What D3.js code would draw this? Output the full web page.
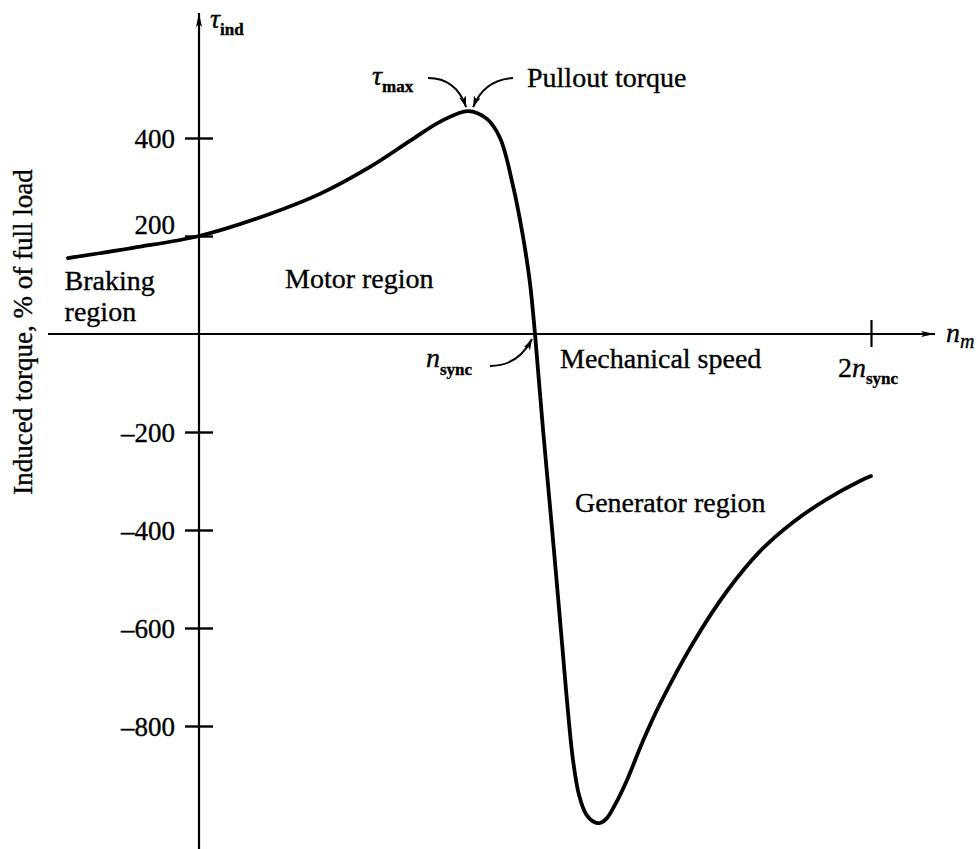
<!DOCTYPE html>
<html>
<head>
<meta charset="utf-8">
<script src="https://cdn.jsdelivr.net/npm/d3@7"></script>
<style>
  html, body { margin: 0; padding: 0; background: #fff; }
  svg { display: block; }
  text { font-family: "Liberation Serif", "Times New Roman", serif; fill: #000; stroke: #000; stroke-width: 0.35px; }
</style>
</head>
<body>
<svg id="chart" width="977" height="849"></svg>
<script>
// Induction machine torque–speed characteristic.
// Speed is given in % of synchronous speed, torque in % of full-load torque.
const speedPct = [-39, -19.6, 0, 20.2, 36, 50.9, 62.8, 71.7, 80.1, 85.7, 89.6, 93.4, 96.4, 98.5, 100,
                  102.4, 105.1, 107.7, 109.5, 111.3, 113.1, 115.2, 117.6, 119.3, 121.4, 123.8, 127.4, 132.1,
                  137.2, 147, 157.1, 167, 176.8, 186.9, 196.7, 200];
const torquePct = [155, 176, 200, 243, 286, 341, 394, 433, 455, 439, 400, 304, 200, 104, 0,
                   -196, -400, -604, -747, -869, -941, -980, -996, -998, -988, -961, -910, -831,
                   -755, -631, -525, -443, -384, -337, -300, -290];

// Axis ticks
const yTickValues = [400, 200, -200, -400, -600, -800];
const xTickValues = [200];            // 2 n_sync
const syncSpeed = 100;                // n_sync

// Region labels
const regionLabels = [
  { lines: ["Braking", "region"], speed: -40, torque: 90 },
  { lines: ["Motor region"], speed: 25.6, torque: 94 },
  { lines: ["Generator region"], speed: 111.9, torque: -364 }
];

const svg = d3.select("#chart");
const W = 977, H = 849;
svg.append("rect").attr("width", W).attr("height", H).attr("fill", "#fff");

const x = d3.scaleLinear().domain([0, 200]).range([199, 871]);
const y = d3.scaleLinear().domain([0, -800]).range([334, 726]);

// Arrowhead markers
const defs = svg.append("defs");
defs.append("marker")
  .attr("id", "axisArrow").attr("viewBox", "0 0 14 6")
  .attr("refX", 14).attr("refY", 3)
  .attr("markerWidth", 14).attr("markerHeight", 6)
  .attr("markerUnits", "userSpaceOnUse").attr("orient", "auto")
  .append("path").attr("d", "M0,0 L14,3 L0,6 L3,3 Z").attr("fill", "#000");
defs.append("marker")
  .attr("id", "noteArrow").attr("viewBox", "0 0 11 7")
  .attr("refX", 11).attr("refY", 3.5)
  .attr("markerWidth", 11).attr("markerHeight", 7)
  .attr("markerUnits", "userSpaceOnUse").attr("orient", "auto")
  .append("path").attr("d", "M0,0 L11,3.5 L0,7 L2.5,3.5 Z").attr("fill", "#000");

// Axis lines with arrows
const x0 = x(0), y0 = y(0);
svg.append("line")
  .attr("x1", x0).attr("x2", x0).attr("y1", H).attr("y2", 13)
  .attr("stroke", "#000").attr("stroke-width", 2.2)
  .attr("marker-end", "url(#axisArrow)");
svg.append("line")
  .attr("x1", 48).attr("x2", 935).attr("y1", y0).attr("y2", y0)
  .attr("stroke", "#000").attr("stroke-width", 2.2)
  .attr("marker-end", "url(#axisArrow)");

// Y axis ticks (crossing the axis) and labels
const fmt = d => d < 0 ? "\u2013" + Math.abs(d) : String(d);
const yAxis = svg.append("g")
  .attr("transform", `translate(${x0},0)`)
  .call(d3.axisLeft(y).tickValues(yTickValues).tickSize(0).tickPadding(24).tickFormat(fmt));
yAxis.select(".domain").remove();
yAxis.selectAll(".tick line")
  .attr("x1", -14).attr("x2", 14)
  .attr("stroke", "#000").attr("stroke-width", 2.4);
yAxis.selectAll(".tick text")
  .attr("font-family", "Liberation Serif, Times New Roman, serif")
  .attr("font-size", 27)
  .attr("dy", d => d === 200 ? "-0.1em" : "0.34em");

// X axis tick at 2 n_sync
const xAxis = svg.append("g")
  .attr("transform", `translate(0,${y0})`)
  .call(d3.axisBottom(x).tickValues(xTickValues).tickSize(0).tickFormat(""));
xAxis.select(".domain").remove();
xAxis.selectAll(".tick line")
  .attr("y1", -14).attr("y2", 13)
  .attr("stroke", "#000").attr("stroke-width", 2.2);

// Torque-speed curve
const pts = speedPct.map((s, i) => [s, torquePct[i]]);
svg.append("path")
  .datum(pts)
  .attr("fill", "none")
  .attr("stroke", "#000")
  .attr("stroke-width", 3.8)
  .attr("stroke-linejoin", "round")
  .attr("stroke-linecap", "round")
  .attr("d", d3.line().x(d => x(d[0])).y(d => y(d[1])).curve(d3.curveCatmullRom.alpha(0.5)));

// Axis name labels
const tauInd = svg.append("text").attr("x", 210).attr("y", 28).attr("font-size", 28);
tauInd.append("tspan").attr("font-style", "italic").text("τ");
tauInd.append("tspan").attr("font-size", 17).attr("font-weight", "bold").attr("dy", 7).text("ind");

const nm = svg.append("text").attr("x", 946).attr("y", 342).attr("font-size", 28);
nm.append("tspan").attr("font-style", "italic").text("n");
nm.append("tspan").attr("font-style", "italic").attr("font-size", 20).attr("dy", 6).text("m");

const twoSync = svg.append("text").attr("x", 838).attr("y", 377).attr("font-size", 28);
twoSync.append("tspan").text("2");
twoSync.append("tspan").attr("font-style", "italic").text("n");
twoSync.append("tspan").attr("font-size", 17).attr("font-weight", "bold").attr("dy", 7).text("sync");

svg.append("text")
  .attr("transform", "translate(32,332) rotate(-90)")
  .attr("text-anchor", "middle")
  .attr("font-size", 27)
  .text("Induced torque, % of full load");

svg.append("text").attr("x", 560).attr("y", 368).attr("font-size", 28).text("Mechanical speed");

// Region labels
regionLabels.forEach(r => {
  const t = svg.append("text").attr("x", x(r.speed)).attr("y", y(r.torque)).attr("font-size", 28);
  r.lines.forEach((ln, i) => {
    t.append("tspan").attr("x", x(r.speed)).attr("dy", i === 0 ? 0 : 31).text(ln);
  });
});

// Annotations: maximum (pullout) torque and synchronous speed
const peakIdx = d3.maxIndex(torquePct);
const px = x(speedPct[peakIdx]), py = y(torquePct[peakIdx]);

const tauMax = svg.append("text").attr("x", 372).attr("y", 85).attr("font-size", 28);
tauMax.append("tspan").attr("font-style", "italic").text("τ");
tauMax.append("tspan").attr("font-size", 17).attr("font-weight", "bold").attr("dy", 7).text("max");

svg.append("text").attr("x", 527).attr("y", 87).attr("font-size", 28).text("Pullout torque");

const note = (x1, y1, cx, cy, x2, y2) => {
  const p = d3.path();
  p.moveTo(x1, y1);
  p.quadraticCurveTo(cx, cy, x2, y2);
  svg.append("path").attr("d", p.toString())
    .attr("fill", "none").attr("stroke", "#000").attr("stroke-width", 2)
    .attr("marker-end", "url(#noteArrow)");
};
note(428, 78, 456, 78, px - 2, py - 4);
note(513, 78, 484, 80, px + 5, py - 4);

const nSync = svg.append("text").attr("x", 426).attr("y", 367).attr("font-size", 28);
nSync.append("tspan").attr("font-style", "italic").text("n");
nSync.append("tspan").attr("font-size", 17).attr("font-weight", "bold").attr("dy", 8).text("sync");

note(490, 366, 518, 366, x(syncSpeed) - 3, y0 + 5);
</script>
</body>
</html>
